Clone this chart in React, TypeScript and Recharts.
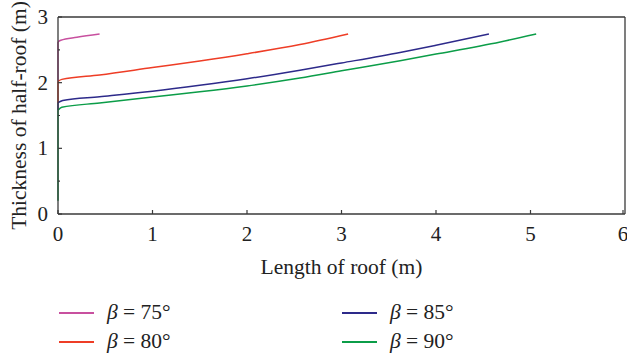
import { LineChart, Line, XAxis, YAxis, ReferenceLine, Label } from "recharts";

const FONT = "Liberation Serif, DejaVu Serif, serif";
const AXIS = "#3a3a3a";

const xTicks = [0, 1, 2, 3, 4, 5, 6];
const yTicks = [0, 0.5, 1, 1.5, 2, 2.5, 3];

// vertical part of each curve along x = 0, then the curve itself
const riser75 = [{ x: 0, y: 2.03 }, { x: 0, y: 2.62 }];
const beta75 = [
    { x: 0, y: 2.62 }, { x: 0.03, y: 2.645 }, { x: 0.2, y: 2.69 }, { x: 0.44, y: 2.74 },
];
const riser80 = [{ x: 0, y: 1.69 }, { x: 0, y: 2.02 }];
const beta80 = [
    { x: 0, y: 2.02 }, { x: 0.04, y: 2.05 }, { x: 0.44, y: 2.117 }, { x: 1, y: 2.23 },
    { x: 1.5, y: 2.33 }, { x: 2, y: 2.44 }, { x: 2.56, y: 2.58 }, { x: 3.07, y: 2.74 },
];
const riser85 = [{ x: 0, y: 1.58 }, { x: 0, y: 1.695 }];
const beta85 = [
    { x: 0, y: 1.695 }, { x: 0.05, y: 1.73 }, { x: 0.44, y: 1.786 }, { x: 1, y: 1.87 },
    { x: 1.5, y: 1.96 }, { x: 2, y: 2.06 }, { x: 2.56, y: 2.19 }, { x: 3, y: 2.3 },
    { x: 3.62, y: 2.46 }, { x: 4, y: 2.57 }, { x: 4.56, y: 2.74 },
];
const riser90 = [{ x: 0, y: 0.2 }, { x: 0, y: 1.58 }];
const beta90 = [
    { x: 0, y: 1.58 }, { x: 0.04, y: 1.625 }, { x: 0.44, y: 1.69 }, { x: 1, y: 1.78 },
    { x: 1.5, y: 1.86 }, { x: 2, y: 1.95 }, { x: 2.56, y: 2.07 }, { x: 3, y: 2.18 },
    { x: 3.62, y: 2.335 }, { x: 4, y: 2.435 }, { x: 4.68, y: 2.62 }, { x: 5.06, y: 2.74 },
];

const SERIES = [
    { name: "75°", riser: riser75, data: beta75, color: "#c8509f" },
    { name: "80°", riser: riser80, data: beta80, color: "#ee3d26" },
    { name: "85°", riser: riser85, data: beta85, color: "#2d2a8a" },
    { name: "90°", riser: riser90, data: beta90, color: "#0b9d48" },
];

function XTick({ x, y, payload }: any) {
    return (
        <g>
            <line x1={x} x2={x} y1={y} y2={y - 4} stroke={AXIS} strokeWidth={1.2} />
            <text x={x} y={y + 27} textAnchor="middle" style={{ fontFamily: FONT }} fontSize={21} fill="#222">
                {payload.value}
            </text>
        </g>
    );
}

function YTick({ x, y, payload }: any) {
    const major = Number.isInteger(payload.value);
    return (
        <g>
            <line x1={x} x2={x + (major ? 4 : 2)} y1={y} y2={y} stroke={AXIS} strokeWidth={1.2} />
            {major && (
                <text x={x - 10} y={y + 7} textAnchor="end" style={{ fontFamily: FONT }} fontSize={21} fill="#222">
                    {payload.value}
                </text>
            )}
        </g>
    );
}

function LegendItem({ left, top, color, name }: { left: number; top: number; color: string; name: string }) {
    return (
        <>
            <div style={{ position: "absolute", left, top: top - 1, width: 35, height: 1.6, background: color }} />
            <div style={{ position: "absolute", left: left + 48, top: top - 13, fontSize: 21.5, lineHeight: "24px", color: "#222", whiteSpace: "nowrap", fontFamily: FONT }}>
                <i>β</i> = {name}
            </div>
        </>
    );
}

export default function App() {
    return (
        <div style={{ position: "absolute", left: 0, top: 0, width: 627, height: 357, background: "#fff", fontFamily: FONT }}>
            <LineChart width={627} height={280} margin={{ top: 17, right: 2, left: 0, bottom: 0 }} style={{ fontFamily: FONT }}>
                <XAxis
                    dataKey="x"
                    type="number"
                    domain={[0, 6]}
                    ticks={xTicks}
                    tick={<XTick />}
                    tickSize={0}
                    tickMargin={0}
                    tickLine={false}
                    height={66}
                    axisLine={{ stroke: AXIS, strokeWidth: 1.3 }}
                    allowDuplicatedCategory={false}
                >
                    <Label value="Length of roof (m)" position="insideBottom" offset={6} fontSize={21.5} fill="#222" style={{ fontFamily: FONT }} />
                </XAxis>
                <YAxis
                    dataKey="y"
                    type="number"
                    domain={[0, 3]}
                    ticks={yTicks}
                    tick={<YTick />}
                    tickSize={0}
                    tickMargin={0}
                    tickLine={false}
                    width={58}
                    axisLine={{ stroke: AXIS, strokeWidth: 1.3 }}
                    interval={0}
                >
                    <Label
                        value="Thickness of half-roof (m)"
                        angle={-90}
                        position="insideLeft"
                        offset={18}
                        fontSize={21.5}
                        fill="#222"
                        style={{ textAnchor: "middle", fontFamily: FONT }}
                    />
                </YAxis>
                <ReferenceLine y={3} stroke={AXIS} strokeWidth={1.3} />
                <ReferenceLine x={6} stroke={AXIS} strokeWidth={1.3} />
                {SERIES.map((s) => (
                    <Line
                        key={s.name + "-riser"}
                        data={s.riser}
                        dataKey="y"
                        type="linear"
                        stroke={s.color}
                        strokeWidth={1.5}
                        dot={false}
                        activeDot={false}
                        isAnimationActive={false}
                    />
                ))}
                {SERIES.map((s) => (
                    <Line
                        key={s.name}
                        data={s.data}
                        dataKey="y"
                        type="monotone"
                        stroke={s.color}
                        strokeWidth={1.5}
                        dot={false}
                        activeDot={false}
                        isAnimationActive={false}
                    />
                ))}
            </LineChart>
            <LegendItem left={59} top={313} color={SERIES[0].color} name={SERIES[0].name} />
            <LegendItem left={59} top={342} color={SERIES[1].color} name={SERIES[1].name} />
            <LegendItem left={342} top={313} color={SERIES[2].color} name={SERIES[2].name} />
            <LegendItem left={342} top={342} color={SERIES[3].color} name={SERIES[3].name} />
        </div>
    );
}
